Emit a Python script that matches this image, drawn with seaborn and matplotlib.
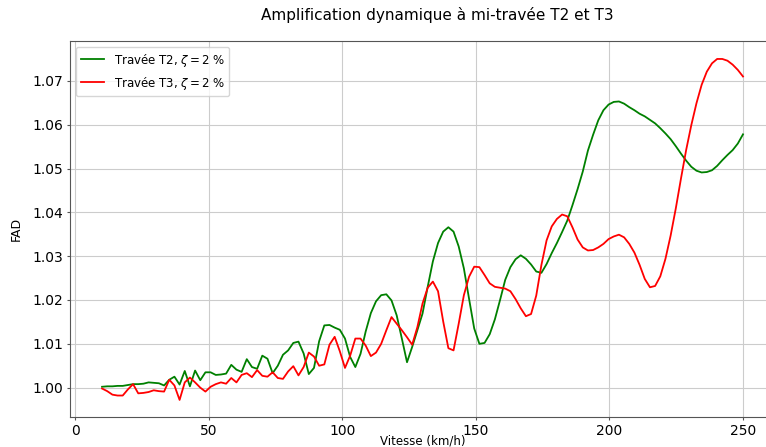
import numpy as np
import pandas as pd
import matplotlib
matplotlib.use("Agg")
import matplotlib.pyplot as plt
import seaborn as sns

# vitesses (km/h), 125 pas de 10 à 250
vitesse = np.linspace(10, 250, 125)

fad_t2 = [
    1.0002, 1.0003, 1.0003, 1.0004, 1.0004, 1.0006, 1.0008, 1.0008, 1.0009, 1.0012,
    1.0011, 1.0010, 1.0005, 1.0018, 1.0025, 1.0007, 1.0038, 1.0003, 1.0039, 1.0017,
    1.0035, 1.0035, 1.0029, 1.0030, 1.0032, 1.0052, 1.0041, 1.0036, 1.0065, 1.0047,
    1.0043, 1.0073, 1.0066, 1.0033, 1.0050, 1.0075, 1.0085, 1.0102, 1.0105, 1.0078,
    1.0031, 1.0045, 1.0106, 1.0142, 1.0143, 1.0137, 1.0132, 1.0112, 1.0070, 1.0047,
    1.0077, 1.0128, 1.0170, 1.0197, 1.0211, 1.0213, 1.0199, 1.0165, 1.0112, 1.0058,
    1.0093, 1.0131, 1.0169, 1.0230, 1.0288, 1.0330, 1.0356, 1.0366, 1.0356, 1.0322,
    1.0272, 1.0203, 1.0135, 1.0100, 1.0102, 1.0122, 1.0156, 1.0200, 1.0246, 1.0275,
    1.0293, 1.0302, 1.0294, 1.0281, 1.0265, 1.0262, 1.0282, 1.0307, 1.0330, 1.0355,
    1.0381, 1.0416, 1.0453, 1.0493, 1.0541, 1.0577, 1.0610, 1.0633, 1.0646, 1.0652,
    1.0653, 1.0648, 1.0640, 1.0633, 1.0625, 1.0619, 1.0611, 1.0603, 1.0592, 1.0580,
    1.0567, 1.0551, 1.0534, 1.0518, 1.0504, 1.0495, 1.0491, 1.0492, 1.0496, 1.0506,
    1.0519, 1.0531, 1.0542, 1.0557, 1.0578,
]

fad_t3 = [
    0.9998, 0.9992, 0.9984, 0.9982, 0.9982, 0.9996, 1.0008, 0.9987, 0.9988, 0.9990,
    0.9994, 0.9992, 0.9991, 1.0018, 1.0005, 0.9972, 1.0012, 1.0023, 1.0012, 1.0000,
    0.9991, 1.0002, 1.0008, 1.0012, 1.0009, 1.0022, 1.0012, 1.0029, 1.0033, 1.0024,
    1.0040, 1.0027, 1.0025, 1.0035, 1.0022, 1.0020, 1.0037, 1.0049, 1.0028, 1.0047,
    1.0080, 1.0071, 1.0050, 1.0053, 1.0098, 1.0116, 1.0083, 1.0045, 1.0073, 1.0112,
    1.0112, 1.0096, 1.0072, 1.0080, 1.0100, 1.0131, 1.0161, 1.0146, 1.0131, 1.0115,
    1.0098, 1.0138, 1.0192, 1.0228, 1.0242, 1.0220, 1.0151, 1.0090, 1.0085, 1.0146,
    1.0211, 1.0253, 1.0276, 1.0275, 1.0257, 1.0238, 1.0230, 1.0228, 1.0226, 1.0220,
    1.0202, 1.0181, 1.0163, 1.0168, 1.0210, 1.0280, 1.0336, 1.0368, 1.0385, 1.0395,
    1.0391, 1.0366, 1.0338, 1.0320, 1.0313, 1.0314, 1.0320, 1.0328, 1.0339, 1.0345,
    1.0349, 1.0343, 1.0328, 1.0308, 1.0280, 1.0248, 1.0229, 1.0232, 1.0254, 1.0294,
    1.0347, 1.0409, 1.0477, 1.0542, 1.0599, 1.0649, 1.0691, 1.0721, 1.0740, 1.0750,
    1.0750, 1.0746, 1.0737, 1.0725, 1.0710,
]

labels = [r"Travée T2, $\zeta = 2$ %", r"Travée T3, $\zeta = 2$ %"]
couleurs = ["green", "red"]

df = pd.concat([
    pd.DataFrame({"vitesse": vitesse, "fad": fad_t2, "travee": labels[0]}),
    pd.DataFrame({"vitesse": vitesse, "fad": fad_t3, "travee": labels[1]}),
])

plt.rcParams["font.family"] = ["DejaVu Sans"]

fig = plt.figure(figsize=(7.66, 4.47), dpi=100)
# axe un peu plus large que l'image (bord droit coupé comme sur l'original)
ax = fig.add_axes([0.0914, 0.0671, 0.9204, 0.8412])

sns.lineplot(data=df, x="vitesse", y="fad", hue="travee",
             palette=dict(zip(labels, couleurs)), linewidth=1.3, ax=ax)

ax.set_xlim(-2, 262)
ax.set_ylim(0.9933, 1.0791)
ax.set_xticks([0, 50, 100, 150, 200, 250])
ax.set_yticks([1.00, 1.01, 1.02, 1.03, 1.04, 1.05, 1.06, 1.07])
ax.set_yticklabels([f"{t:.2f}" for t in ax.get_yticks()])
ax.tick_params(labelsize=10, length=2.5, pad=2.5, color="#555555")
ax.grid(True, color="#cccccc", linewidth=0.8)
ax.set_axisbelow(True)
for s in ax.spines.values():
    s.set_color("#555555")

ax.set_xlabel("Vitesse (km/h)", fontsize=8.5)
ax.xaxis.set_label_coords(0.5, -0.047)
ax.set_ylabel("FAD", fontsize=9, labelpad=6.5)
fig.suptitle("Amplification dynamique à mi-travée T2 et T3", fontsize=11,
             x=0.5705, y=0.985)
ax.legend(loc="upper left", fontsize=8.5, title=None)

fig.savefig("out.png", dpi=100)
